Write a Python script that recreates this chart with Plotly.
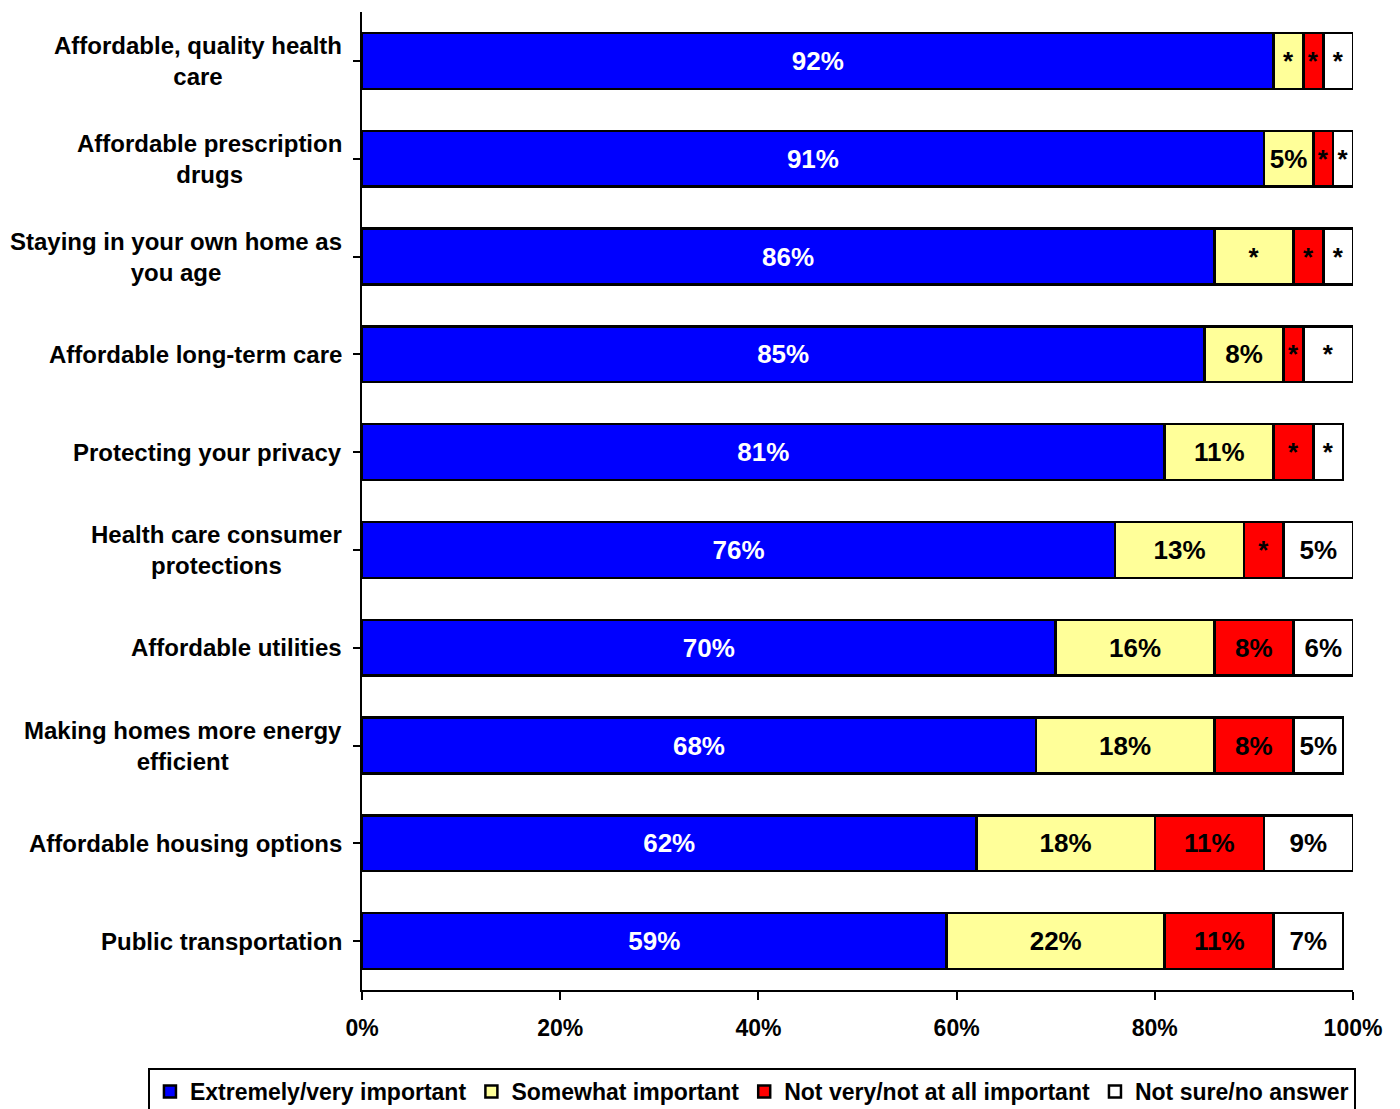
import plotly.graph_objects as go

categories = [
    "Affordable, quality health<br>care",
    "Affordable prescription<br>drugs",
    "Staying in your own home as<br>you age",
    "Affordable long-term care",
    "Protecting your privacy",
    "Health care consumer<br>protections",
    "Affordable utilities",
    "Making homes more energy<br>efficient",
    "Affordable housing options",
    "Public transportation",
]
cat_ids = list(range(len(categories)))

series_names = ["Extremely/very important", "Somewhat important",
                "Not very/not at all important", "Not sure/no answer"]

extremely = [92, 91, 86, 85, 81, 76, 70, 68, 62, 59]
somewhat = [3, 5, 8, 8, 11, 13, 16, 18, 18, 22]
not_very = [2, 2, 3, 2, 4, 4, 8, 8, 11, 11]
not_sure = [3, 2, 3, 5, 3, 7, 6, 5, 9, 7]

extremely_lbl = ["92%", "91%", "86%", "85%", "81%", "76%", "70%", "68%", "62%", "59%"]
somewhat_lbl = ["*", "5%", "*", "8%", "11%", "13%", "16%", "18%", "18%", "22%"]
not_very_lbl = ["*", "*", "*", "*", "*", "*", "8%", "8%", "11%", "11%"]
not_sure_lbl = ["*", "*", "*", "*", "*", "5%", "6%", "5%", "9%", "7%"]

x_tickvals = [0, 20, 40, 60, 80, 100]
x_ticktext = ["0%", "20%", "40%", "60%", "80%", "100%"]

colors = ["#0000FF", "#FFFF99", "#FF0000", "#FFFFFF"]
text_colors = ["white", "black", "black", "black"]

FONT = "Liberation Sans, Arial, sans-serif"

fig = go.Figure()
for name, vals, lbls, col, tcol in zip(
        series_names,
        [extremely, somewhat, not_very, not_sure],
        [extremely_lbl, somewhat_lbl, not_very_lbl, not_sure_lbl],
        colors, text_colors):
    fig.add_trace(go.Bar(
        y=cat_ids, x=vals, name=name, orientation="h",
        marker=dict(color=col, line=dict(color="black", width=2.5)),
        text=lbls, textposition="inside", insidetextanchor="middle",
        textangle=0, constraintext="none",
        textfont=dict(family=FONT, size=26, color=tcol, weight="bold"),
        hoverinfo="skip",
    ))

for i, c in enumerate(categories):
    fig.add_annotation(
        x=0, xref="paper", y=i, yref="y", text=c, showarrow=False,
        xanchor="right", yanchor="middle", align="center", xshift=-18,
        font=dict(family=FONT, size=24, color="black", weight="bold"),
    )

# page body has an 8px default margin, so the figure is sized to fit
fig.update_layout(
    width=1392, height=1101,
    barmode="stack", bargap=0.43,
    plot_bgcolor="white", paper_bgcolor="white",
    margin=dict(l=354, r=47, t=4, b=119, autoexpand=False),
    font=dict(family=FONT, color="black"),
    showlegend=True,
    legend=dict(
        orientation="h", x=-0.216, xanchor="left",
        y=-0.0798, yanchor="top",
        bordercolor="black", borderwidth=2, itemwidth=30,
        font=dict(family=FONT, size=23, color="black", weight="bold"),
        traceorder="normal",
    ),
)
fig.update_xaxes(
    range=[0, 100], tickvals=x_tickvals, ticktext=x_ticktext,
    showgrid=False, zeroline=False,
    showline=True, linecolor="black", linewidth=2,
    ticks="outside", ticklen=8, tickwidth=2, tickcolor="black",
    ticklabelstandoff=8,
    tickfont=dict(family=FONT, size=23, color="black", weight="bold"),
)
fig.update_yaxes(
    autorange="reversed", tickvals=cat_ids, showticklabels=False,
    tickson="boundaries", ticks="outside", ticklen=7, tickwidth=2,
    tickcolor="black", showgrid=False, zeroline=False,
    showline=True, linecolor="black", linewidth=2,
)

fig.write_html("out.html")
